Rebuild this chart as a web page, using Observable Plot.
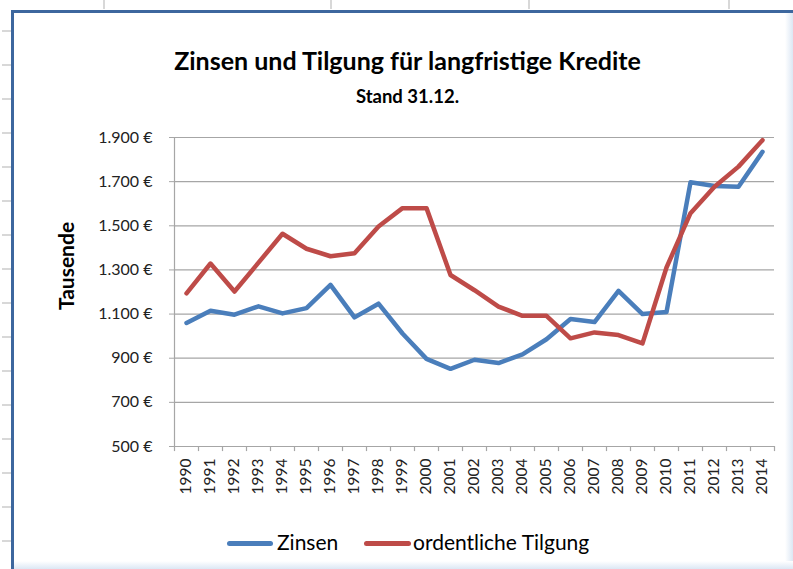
<!DOCTYPE html>
<html>
<head>
<meta charset="utf-8">
<script src="https://cdn.jsdelivr.net/npm/d3@7"></script>
<script src="https://cdn.jsdelivr.net/npm/@observablehq/plot@0.6"></script>
<style>
  html, body { margin: 0; padding: 0; }
  body { width: 793px; height: 569px; position: relative; overflow: hidden; background: #fff; font-family: Lato, "Open Sans", sans-serif; }
  .abs { position: absolute; }
  .gridv { position: absolute; top: 0; width: 2px; height: 9px; background: #d8d8d8; }
  .gridh { position: absolute; left: 2px; width: 9px; height: 2px; background: #d8d8d8; }
  #frame { position: absolute; left: 11px; top: 10px; right: 0; bottom: 0; border-left: 3px solid #3d679e; border-top: 3px solid #3d679e; background: #fff; }
  #title { position: absolute; left: 0; width: 815px; top: 45px; text-align: center; font-weight: bold; font-size: 25px; line-height: 30px; color: #000; }
  #subtitle { position: absolute; left: 0; width: 815px; top: 85px; text-align: center; font-weight: bold; font-size: 18.5px; line-height: 22px; color: #000; }
  #ylabel { position: absolute; left: 65px; top: 266px; transform: translate(-50%, -50%) rotate(-90deg); font-weight: bold; font-size: 21px; color: #000; white-space: nowrap; }
  #chart { position: absolute; left: 0; top: 110px; }
  #chart svg text { font-family: Lato, "Open Sans", sans-serif !important; }
  #chart g[aria-label="y-axis tick label"], #chart g[aria-label="y-axis tick label"] text { font-size: 16px !important; }
  #chart g[aria-label="x-axis tick label"], #chart g[aria-label="x-axis tick label"] text { font-size: 15.5px !important; }
  .leg { position: absolute; top: 529px; font-size: 21px; line-height: 25px; color: #000; white-space: nowrap; }
  .legline { position: absolute; top: 540.5px; height: 5px; border-radius: 2.5px; }
</style>
</head>
<body>
<div class="gridv" style="left:103px"></div>
<div class="gridv" style="left:330px"></div>
<div class="gridv" style="left:528px"></div>
<div class="gridv" style="left:728px"></div>
<div id="gh"></div>
<div id="frame"></div>
<div class="abs" style="left:785px; top:13px; width:8px; height:556px; background:linear-gradient(to right, #ffffff, #dce7f4);"></div>
<div class="abs" style="left:14px; top:561px; width:779px; height:8px; background:linear-gradient(to bottom, #ffffff, #dce7f4);"></div>
<div id="title">Zinsen und Tilgung für langfristige Kredite</div>
<div id="subtitle">Stand 31.12.</div>
<div id="ylabel">Tausende</div>
<div id="chart"></div>
<div class="legline" style="left:227px; width:46px; background:#4a7ebb;"></div>
<div class="leg" style="left:277px;">Zinsen</div>
<div class="legline" style="left:364px; width:47px; background:#be4b48;"></div>
<div class="leg" style="left:413px;">ordentliche Tilgung</div>
<script>
// decorative spreadsheet row ticks left of the frame
const gh = document.getElementById("gh");
for (let k = 0; k < 16; k++) {
  const d = document.createElement("div");
  d.className = "gridh";
  d.style.top = (30 + 34 * k) + "px";
  gh.appendChild(d);
}

// ---- data ----
const years = [1990,1991,1992,1993,1994,1995,1996,1997,1998,1999,2000,2001,2002,2003,2004,2005,2006,2007,2008,2009,2010,2011,2012,2013,2014];
const zinsen = [1060,1115,1097,1135,1103,1127,1232,1085,1147,1012,897,852,893,878,917,986,1078,1064,1205,1100,1109,1697,1680,1677,1835];
const tilgung = [1194,1329,1202,1333,1464,1396,1362,1376,1497,1580,1580,1277,1208,1134,1092,1092,990,1017,1005,967,1311,1557,1677,1768,1888];
const yTicks = [500,700,900,1100,1300,1500,1700,1900];
const seriesNames = ["Zinsen", "ordentliche Tilgung"];
const seriesColors = ["#4a7ebb", "#be4b48"];

const rows = [];
years.forEach((yr, i) => {
  rows.push({year: yr, value: zinsen[i], series: seriesNames[0]});
  rows.push({year: yr, value: tilgung[i], series: seriesNames[1]});
});
const boundaries = years.map(y => y - 0.5).concat([years[years.length - 1] + 0.5]);

const fmt = d => d3.format(",")(d).replace(/,/g, ".") + " €";

const chart = Plot.plot({
  width: 793,
  height: 400,
  marginLeft: 174,
  marginRight: 19,
  marginTop: 27,
  marginBottom: 64,
  style: {fontFamily: "Lato, 'Open Sans', sans-serif", fontSize: "15px", color: "#222", background: "transparent"},
  x: {type: "linear", domain: [years[0] - 0.5, years[years.length - 1] + 0.5], axis: null},
  y: {domain: [500, 1900], axis: null},
  color: {domain: seriesNames, range: seriesColors},
  marks: [
    Plot.ruleY(yTicks, {stroke: "#a6a6a6", strokeWidth: 1.2}),
    Plot.ruleX([years[0] - 0.5], {stroke: "#a6a6a6", strokeWidth: 1.2}),
    Plot.ruleX(boundaries, {y1: 500, y2: 477, stroke: "#a6a6a6", strokeWidth: 1.2}),
    Plot.axisY({ticks: yTicks, tickFormat: fmt, tickSize: 5, tickPadding: 17, stroke: "#a6a6a6", label: null, fontSize: 16}),
    Plot.axisX({ticks: years, tickFormat: d => String(d), tickSize: 0, tickPadding: 12, tickRotate: -90, label: null, fontSize: 15.5}),
    Plot.line(rows, {x: "year", y: "value", z: "series", stroke: "series", strokeWidth: 4.5, strokeLinejoin: "round", strokeLinecap: "round"})
  ]
});
document.getElementById("chart").appendChild(chart);
</script>
</body>
</html>
